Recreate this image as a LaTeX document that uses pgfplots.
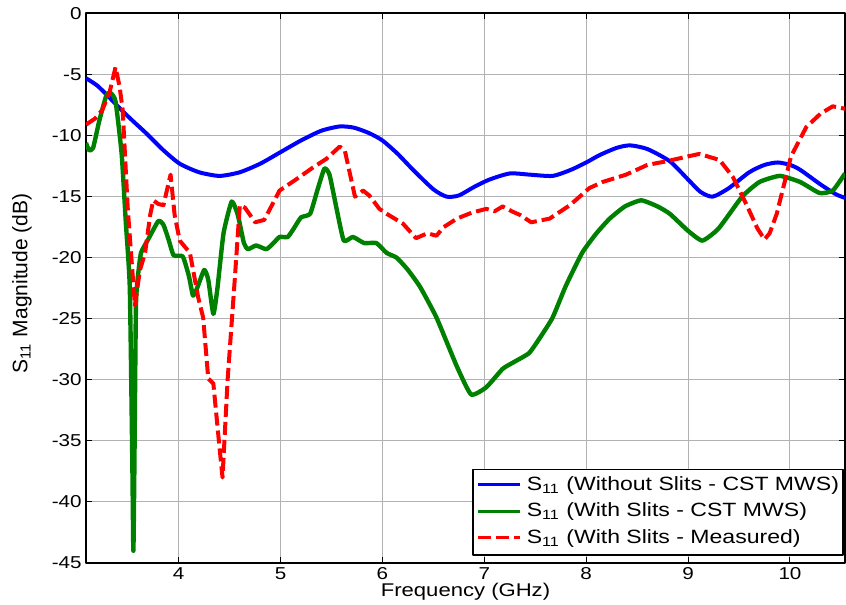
\documentclass[border=0pt]{standalone}
\usepackage{fontspec}
\setmainfont{Liberation Sans}[FakeStretch=1.2]
\newfontfamily\ylabfont{Liberation Sans}
\usepackage{pgfplots}
\pgfplotsset{compat=1.18}

\definecolor{mblue}{RGB}{0,0,255}
\definecolor{mgreen}{RGB}{0,128,0}
\definecolor{mred}{RGB}{255,0,0}

\begin{document}
\begin{tikzpicture}
\begin{axis}[
  scale only axis,
  width=379.5pt, height=274.75pt,
  xmin=3.09, xmax=10.54,
  ymin=-45, ymax=0,
  xtick={4,5,...,10},
  ytick={-45,-40,...,0},
  /pgf/number format/assume math mode=true,
  tick align=inside,
  major tick length=3pt,
  tick style={black, line width=0.5pt},
  axis line style={black, line width=1pt},
  grid=major,
  grid style={gray!60, line width=0.5pt},
  ticklabel style={font=\fontsize{8.6}{10}\selectfont},
  xticklabel style={anchor=base, yshift=-8.5pt, inner sep=0pt},
  yticklabel style={inner sep=0pt, xshift=-2pt},
  xlabel={Frequency (GHz)},
  xlabel style={font=\fontsize{9.2}{11}\selectfont, at={(axis description cs:0.5,0)}, anchor=base, yshift=-16.5pt},
  ylabel={S\textsubscript{11} Magnitude (dB)},
  ylabel style={font=\ylabfont\fontsize{10.5}{12}\selectfont, at={(axis description cs:-0.0843,0.509)}, anchor=center},
  legend style={at={(rel axis cs:0.5086,0)}, anchor=south west, yshift=3.5pt,
    draw=black, line width=0.8pt, fill=white,
    font=\fontsize{9.6}{11}\selectfont,
    inner xsep=2pt, inner ysep=1.5pt, column sep=2.5pt,
    nodes={inner sep=0pt, text height=9pt, text depth=4.3pt, anchor=base west}},
  legend cell align=left,
  legend image code/.code={\draw[#1, line width=1.5pt] (0pt,2.8pt) -- (21pt,2.8pt);},
  line join=round,
]

% without slits, simulated
\addplot[mblue, line width=2pt, smooth, tension=0.4] coordinates {
(3.09,-5.3) (3.2,-5.9) (3.31,-6.8) (3.45,-8.0) (3.55,-8.8) (3.68,-9.8)
(3.85,-11.2) (4.01,-12.3) (4.2,-13.0) (4.4,-13.3) (4.6,-13.0) (4.8,-12.3)
(4.99,-11.4) (5.2,-10.4) (5.4,-9.6) (5.58,-9.25) (5.72,-9.35) (5.87,-9.8)
(6.0,-10.4) (6.15,-11.5) (6.3,-12.8) (6.5,-14.4) (6.63,-15.0) (6.75,-14.9)
(6.9,-14.2) (7.05,-13.6) (7.25,-13.1) (7.45,-13.2) (7.67,-13.3) (7.85,-12.8)
(8.0,-12.2) (8.13,-11.6) (8.3,-11.0) (8.43,-10.8) (8.6,-11.1) (8.82,-12.1)
(9.0,-13.6) (9.12,-14.6) (9.24,-15.0) (9.4,-14.3) (9.6,-13.0) (9.75,-12.4)
(9.88,-12.2) (10.0,-12.4) (10.1,-12.8) (10.3,-14.0) (10.45,-14.8) (10.54,-15.1)
};
\addlegendentry{S\textsubscript{11} (Without Slits - CST MWS)}

% with slits, simulated
\addplot[mgreen, line width=2.2pt, smooth, tension=0.3] coordinates {
(3.09,-10.6) (3.12,-11.2) (3.16,-11.0) (3.22,-8.8) (3.29,-6.7) (3.33,-6.5)
(3.38,-7.2) (3.44,-11.5) (3.48,-17) (3.52,-22.5) (3.545,-37) (3.555,-44.0)
(3.565,-37) (3.58,-24) (3.6,-21.5) (3.63,-19.6) (3.7,-18.5) (3.8,-17.0)
(3.85,-17.3) (3.9,-18.5) (3.95,-19.8) (4.04,-19.9) (4.1,-21.5) (4.14,-23.1)
(4.18,-22.5) (4.25,-21.0) (4.29,-21.8) (4.34,-24.6) (4.38,-22.5) (4.44,-18)
(4.52,-15.4) (4.58,-16.5) (4.64,-18.8) (4.68,-19.3) (4.76,-19.0) (4.86,-19.3)
(4.93,-18.8) (4.99,-18.3) (5.07,-18.3) (5.13,-17.6) (5.2,-16.7) (5.29,-16.4)
(5.36,-14.5) (5.43,-12.7) (5.48,-13.2) (5.55,-16.0) (5.62,-18.6) (5.71,-18.3)
(5.82,-18.8) (5.94,-18.8) (6.04,-19.6) (6.14,-20.0) (6.25,-21.0) (6.37,-22.4)
(6.53,-24.9) (6.73,-28.9) (6.87,-31.2) (7.02,-30.6) (7.18,-29.1) (7.3,-28.5)
(7.44,-27.8) (7.55,-26.5) (7.67,-24.9) (7.8,-22.3) (7.96,-19.6) (8.1,-18.0)
(8.23,-16.8) (8.38,-15.8) (8.54,-15.3) (8.7,-15.8) (8.82,-16.4) (9.0,-17.8)
(9.14,-18.6) (9.3,-17.6) (9.53,-15.0) (9.7,-13.8) (9.9,-13.3) (10.1,-13.8)
(10.29,-14.7) (10.42,-14.5) (10.54,-13.1)
};
\addlegendentry{S\textsubscript{11} (With Slits - CST MWS)}

% with slits, measured
\addplot[mred, line width=2pt, dash pattern=on 6.5pt off 2.5pt] coordinates {
(3.09,-9.1) (3.18,-8.6) (3.25,-7.9) (3.32,-6.5) (3.38,-4.4) (3.42,-6.0)
(3.45,-7.9) (3.5,-16) (3.57,-23.9) (3.62,-21) (3.67,-19.6) (3.72,-16.5)
(3.75,-15.3) (3.8,-15.6) (3.85,-15.7) (3.92,-13.2) (3.96,-16.5) (4.01,-18.6)
(4.11,-19.6) (4.19,-23.2) (4.24,-24.9) (4.29,-29.9) (4.34,-30.3) (4.4,-35.5)
(4.43,-38.0) (4.48,-30.0) (4.55,-21.8) (4.6,-15.7) (4.65,-15.9) (4.75,-17.1)
(4.84,-16.9) (4.99,-14.5) (5.15,-13.6) (5.32,-12.6) (5.45,-11.9) (5.58,-10.9)
(5.63,-11.2) (5.73,-15.0) (5.81,-14.5) (5.87,-14.9) (5.97,-16.0) (6.04,-16.4)
(6.2,-17.2) (6.33,-18.4) (6.44,-18.0) (6.53,-18.2) (6.6,-17.5) (6.73,-16.8)
(6.88,-16.3) (7.02,-16.0) (7.1,-16.2) (7.18,-15.8) (7.27,-16.2) (7.35,-16.5)
(7.46,-17.1) (7.64,-16.8) (7.84,-15.7) (8.03,-14.3) (8.16,-13.8) (8.39,-13.2)
(8.6,-12.4) (8.79,-12.1) (9.0,-11.7) (9.11,-11.5) (9.31,-12.0) (9.44,-13.4)
(9.57,-15.6) (9.68,-17.6) (9.75,-18.5) (9.8,-18.0) (9.87,-16.4) (10.01,-11.7)
(10.16,-9.3) (10.3,-8.2) (10.42,-7.6) (10.54,-7.8)
};
\addlegendentry{S\textsubscript{11} (With Slits - Measured)}

\end{axis}
\pgfresetboundingbox
\useasboundingbox (-43pt,-21pt) rectangle (380pt,281.5pt);
\end{tikzpicture}
\end{document}
